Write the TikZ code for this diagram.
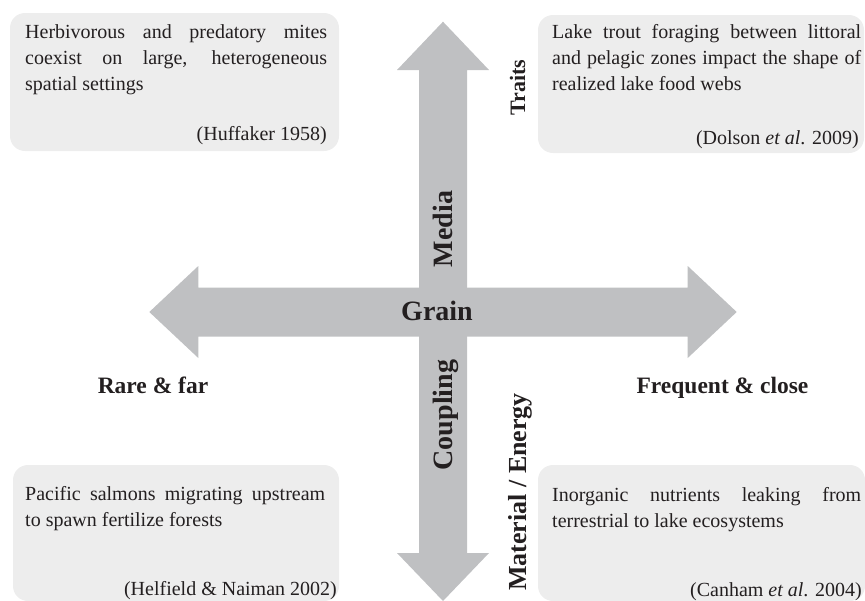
\documentclass[tikz,border=0pt]{standalone}
\usepackage{fontspec}
\setmainfont{Liberation Serif}
\definecolor{arrowgrey}{HTML}{BFC0C2}
\definecolor{boxgrey}{HTML}{EDEDED}
\definecolor{ink}{HTML}{231F20}
\begin{document}
\begin{tikzpicture}[x=1pt,y=-1pt,
  infobox/.style={fill=boxgrey,draw=none,rounded corners=15pt},
  bigarrow/.style={fill=arrowgrey,draw=none},
  bodytext/.style={inner sep=0pt,align=justify,text=ink,
    font=\fontsize{20}{26.3}\selectfont},
  cite/.style={inner sep=0pt,text=ink,font=\fontsize{20}{24}\selectfont},
  axislabel/.style={inner sep=0pt,text=ink,font=\bfseries\fontsize{28}{32}\selectfont},
  sidelabel/.style={inner sep=0pt,text=ink,font=\bfseries\fontsize{23.5}{28}\selectfont},
  vlabel/.style={inner sep=0pt,text=ink,rotate=90,anchor=base}]
\useasboundingbox (0,0) rectangle (865,600);

% boxes
\path[infobox] (10,13) rectangle (339,151);
\path[infobox] (538,15) rectangle (864,153);
\path[infobox] (13,465) rectangle (339,601);
\path[infobox] (538,465) rectangle (865,601);

% arrows
\path[bigarrow] (443,21.7) -- (489,70) -- (467,70) -- (467,553) -- (489,553)
  -- (443,601) -- (397,553) -- (419,553) -- (419,70) -- (397,70) -- cycle;
\path[bigarrow] (149.3,312) -- (198.3,266) -- (198.3,287.5) -- (687.7,287.5)
  -- (687.7,266) -- (736.7,312) -- (687.7,358) -- (687.7,336.5) -- (198.3,336.5)
  -- (198.3,358) -- cycle;

% axis labels
\node[axislabel,anchor=base] (grain) at (437,320) {Grain};
\node[axislabel,vlabel] (media) at (452,229) {Media};
\node[axislabel,vlabel] (coupling) at (452,415) {Coupling};
\node[vlabel,font=\bfseries\fontsize{22}{26}\selectfont,text=ink] (traits) at (525,87.5) {Traits};
\node[vlabel,font=\bfseries\fontsize{26}{30}\selectfont,text=ink] (matenergy) at (526,492) {Material / Energy};
\node[sidelabel,anchor=base] (rare) at (153,393) {Rare \& far};
\node[sidelabel,anchor=base] (frequent) at (722.5,393) {Frequent \& close};

% box texts
\node[bodytext,text width=302pt,anchor=base west] (tltext) at (25,38)
  {Herbivorous and predatory mites\linebreak coexist on large, heterogeneous\linebreak spatial settings};
\node[cite,anchor=base east] (tlcite) at (327,140) {(Huffaker 1958)};

\node[bodytext,text width=309pt,anchor=base west] (trtext) at (552,38)
  {Lake trout foraging between littoral\linebreak and pelagic zones impact the shape of\linebreak realized lake food webs};
\node[cite,anchor=base east] (trcite) at (859,144) {(Dolson \textit{et al}. 2009)};

\node[bodytext,text width=300pt,anchor=base west] (bltext) at (25,500)
  {Pacific salmons migrating upstream\linebreak to spawn fertilize forests};
\node[cite,anchor=base east] (blcite) at (337,595) {(Helfield \& Naiman 2002)};

\node[bodytext,text width=309pt,anchor=base west] (brtext) at (552,501)
  {Inorganic nutrients leaking from\linebreak terrestrial to lake ecosystems};
\node[cite,anchor=base east] (brcite) at (862,596) {(Canham \textit{et al}. 2004)};
\end{tikzpicture}
\end{document}
